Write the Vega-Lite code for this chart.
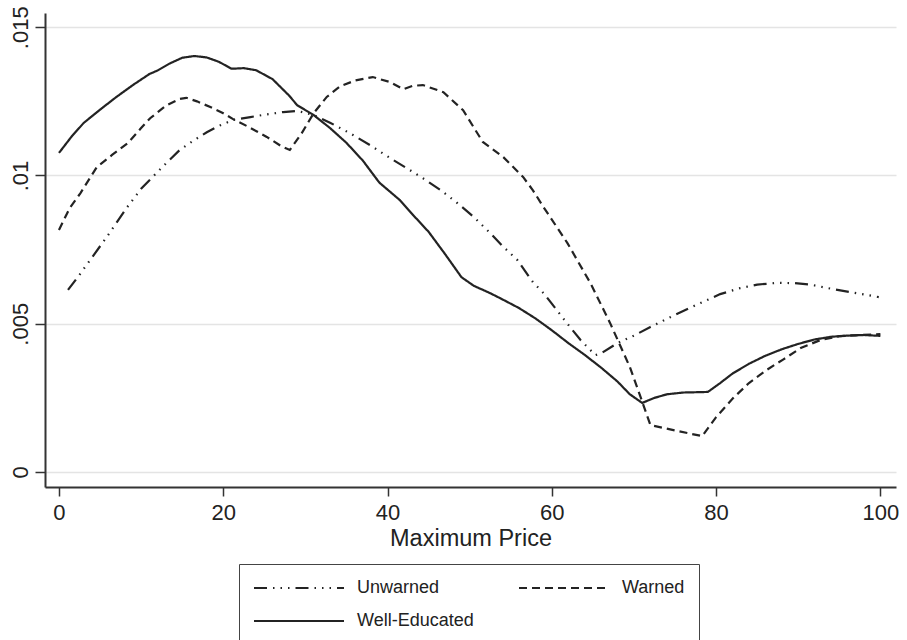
{
  "$schema": "https://vega.github.io/schema/vega-lite/v6.json",
  "autosize": {"type": "none"},
  "padding": {"left": 45, "top": 13, "right": 11, "bottom": 153},
  "width": 851,
  "height": 474,
  "background": "white",
  "config": {"view": {"stroke": null}, "font": "Liberation Sans"},
  "data": {"values": [
    {"group": "Well-Educated", "price": 0, "density": 0.01076},
    {"group": "Well-Educated", "price": 1.5, "density": 0.0113},
    {"group": "Well-Educated", "price": 3, "density": 0.01177},
    {"group": "Well-Educated", "price": 5, "density": 0.01222},
    {"group": "Well-Educated", "price": 7, "density": 0.01265},
    {"group": "Well-Educated", "price": 9, "density": 0.01305},
    {"group": "Well-Educated", "price": 11, "density": 0.01342},
    {"group": "Well-Educated", "price": 12, "density": 0.01354},
    {"group": "Well-Educated", "price": 13.5, "density": 0.01378},
    {"group": "Well-Educated", "price": 15, "density": 0.01397},
    {"group": "Well-Educated", "price": 16.5, "density": 0.01403},
    {"group": "Well-Educated", "price": 18, "density": 0.01398},
    {"group": "Well-Educated", "price": 19.5, "density": 0.01383},
    {"group": "Well-Educated", "price": 21, "density": 0.0136},
    {"group": "Well-Educated", "price": 22.5, "density": 0.01362},
    {"group": "Well-Educated", "price": 24, "density": 0.01355},
    {"group": "Well-Educated", "price": 26, "density": 0.01325},
    {"group": "Well-Educated", "price": 28, "density": 0.0127},
    {"group": "Well-Educated", "price": 29, "density": 0.01237},
    {"group": "Well-Educated", "price": 31, "density": 0.01204},
    {"group": "Well-Educated", "price": 33, "density": 0.0116},
    {"group": "Well-Educated", "price": 35, "density": 0.0111},
    {"group": "Well-Educated", "price": 37, "density": 0.0105},
    {"group": "Well-Educated", "price": 39, "density": 0.00976},
    {"group": "Well-Educated", "price": 41.5, "density": 0.00917},
    {"group": "Well-Educated", "price": 43, "density": 0.0087},
    {"group": "Well-Educated", "price": 45, "density": 0.0081},
    {"group": "Well-Educated", "price": 47, "density": 0.00735},
    {"group": "Well-Educated", "price": 49, "density": 0.00657},
    {"group": "Well-Educated", "price": 50.5, "density": 0.00628},
    {"group": "Well-Educated", "price": 52.5, "density": 0.00603},
    {"group": "Well-Educated", "price": 54, "density": 0.00582},
    {"group": "Well-Educated", "price": 56, "density": 0.00553},
    {"group": "Well-Educated", "price": 58, "density": 0.00518},
    {"group": "Well-Educated", "price": 60, "density": 0.00478},
    {"group": "Well-Educated", "price": 62, "density": 0.00435},
    {"group": "Well-Educated", "price": 64, "density": 0.00395},
    {"group": "Well-Educated", "price": 66, "density": 0.00352},
    {"group": "Well-Educated", "price": 68, "density": 0.00305},
    {"group": "Well-Educated", "price": 69.5, "density": 0.00262},
    {"group": "Well-Educated", "price": 71, "density": 0.00233},
    {"group": "Well-Educated", "price": 72.5, "density": 0.0025},
    {"group": "Well-Educated", "price": 74, "density": 0.00262},
    {"group": "Well-Educated", "price": 76, "density": 0.00268},
    {"group": "Well-Educated", "price": 79, "density": 0.0027},
    {"group": "Well-Educated", "price": 80.5, "density": 0.003},
    {"group": "Well-Educated", "price": 82, "density": 0.00332},
    {"group": "Well-Educated", "price": 84, "density": 0.00365},
    {"group": "Well-Educated", "price": 86, "density": 0.00392},
    {"group": "Well-Educated", "price": 88, "density": 0.00414},
    {"group": "Well-Educated", "price": 90, "density": 0.00432},
    {"group": "Well-Educated", "price": 92, "density": 0.00447},
    {"group": "Well-Educated", "price": 94, "density": 0.00456},
    {"group": "Well-Educated", "price": 96, "density": 0.0046},
    {"group": "Well-Educated", "price": 98, "density": 0.00462},
    {"group": "Well-Educated", "price": 100, "density": 0.00459},

    {"group": "Warned", "price": 0, "density": 0.00816},
    {"group": "Warned", "price": 1.3, "density": 0.0089},
    {"group": "Warned", "price": 2.6, "density": 0.0094},
    {"group": "Warned", "price": 4.6, "density": 0.01028},
    {"group": "Warned", "price": 6.5, "density": 0.0107},
    {"group": "Warned", "price": 8.4, "density": 0.0111},
    {"group": "Warned", "price": 10, "density": 0.0116},
    {"group": "Warned", "price": 11.1, "density": 0.01193},
    {"group": "Warned", "price": 13, "density": 0.01235},
    {"group": "Warned", "price": 14.7, "density": 0.01258},
    {"group": "Warned", "price": 15.5, "density": 0.01262},
    {"group": "Warned", "price": 16.8, "density": 0.0125},
    {"group": "Warned", "price": 18.5, "density": 0.0123},
    {"group": "Warned", "price": 20, "density": 0.0121},
    {"group": "Warned", "price": 21.2, "density": 0.0119},
    {"group": "Warned", "price": 23, "density": 0.01165},
    {"group": "Warned", "price": 25.3, "density": 0.0113},
    {"group": "Warned", "price": 27, "density": 0.011},
    {"group": "Warned", "price": 28.1, "density": 0.01086},
    {"group": "Warned", "price": 29.5, "density": 0.0114},
    {"group": "Warned", "price": 31, "density": 0.0121},
    {"group": "Warned", "price": 32.6, "density": 0.01265},
    {"group": "Warned", "price": 34.2, "density": 0.013},
    {"group": "Warned", "price": 36, "density": 0.0132},
    {"group": "Warned", "price": 38.2, "density": 0.01332},
    {"group": "Warned", "price": 40.3, "density": 0.01315},
    {"group": "Warned", "price": 41.9, "density": 0.01291},
    {"group": "Warned", "price": 43, "density": 0.01302},
    {"group": "Warned", "price": 44.3, "density": 0.01305},
    {"group": "Warned", "price": 46.8, "density": 0.01281},
    {"group": "Warned", "price": 49.2, "density": 0.0122},
    {"group": "Warned", "price": 51.6, "density": 0.01113},
    {"group": "Warned", "price": 54.1, "density": 0.01062},
    {"group": "Warned", "price": 56.5, "density": 0.00995},
    {"group": "Warned", "price": 57.7, "density": 0.0095},
    {"group": "Warned", "price": 59, "density": 0.00893},
    {"group": "Warned", "price": 61.9, "density": 0.00772},
    {"group": "Warned", "price": 64.7, "density": 0.00637},
    {"group": "Warned", "price": 67.1, "density": 0.00502},
    {"group": "Warned", "price": 69.5, "density": 0.00354},
    {"group": "Warned", "price": 70.8, "density": 0.00253},
    {"group": "Warned", "price": 72, "density": 0.00158},
    {"group": "Warned", "price": 75, "density": 0.0014},
    {"group": "Warned", "price": 78.3, "density": 0.00121},
    {"group": "Warned", "price": 80, "density": 0.00185},
    {"group": "Warned", "price": 82.1, "density": 0.0025},
    {"group": "Warned", "price": 84, "density": 0.003},
    {"group": "Warned", "price": 86.2, "density": 0.00345},
    {"group": "Warned", "price": 88.2, "density": 0.0038},
    {"group": "Warned", "price": 90.3, "density": 0.00418},
    {"group": "Warned", "price": 92.7, "density": 0.00445},
    {"group": "Warned", "price": 95, "density": 0.00458},
    {"group": "Warned", "price": 97.5, "density": 0.00462},
    {"group": "Warned", "price": 100, "density": 0.00465},

    {"group": "Unwarned", "price": 1.1, "density": 0.00614},
    {"group": "Unwarned", "price": 2.5, "density": 0.00665},
    {"group": "Unwarned", "price": 3.8, "density": 0.00715},
    {"group": "Unwarned", "price": 5.8, "density": 0.00792},
    {"group": "Unwarned", "price": 8.3, "density": 0.00893},
    {"group": "Unwarned", "price": 10, "density": 0.00955},
    {"group": "Unwarned", "price": 11.4, "density": 0.00995},
    {"group": "Unwarned", "price": 13, "density": 0.0104},
    {"group": "Unwarned", "price": 14.7, "density": 0.01086},
    {"group": "Unwarned", "price": 16.5, "density": 0.0112},
    {"group": "Unwarned", "price": 18, "density": 0.01146},
    {"group": "Unwarned", "price": 19.5, "density": 0.01168},
    {"group": "Unwarned", "price": 21.2, "density": 0.01187},
    {"group": "Unwarned", "price": 23.3, "density": 0.01197},
    {"group": "Unwarned", "price": 25, "density": 0.01205},
    {"group": "Unwarned", "price": 27.3, "density": 0.01214},
    {"group": "Unwarned", "price": 29, "density": 0.01218},
    {"group": "Unwarned", "price": 31, "density": 0.01204},
    {"group": "Unwarned", "price": 33, "density": 0.01178},
    {"group": "Unwarned", "price": 35.4, "density": 0.01143},
    {"group": "Unwarned", "price": 38, "density": 0.011},
    {"group": "Unwarned", "price": 40.7, "density": 0.01052},
    {"group": "Unwarned", "price": 42.5, "density": 0.01022},
    {"group": "Unwarned", "price": 44.3, "density": 0.00991},
    {"group": "Unwarned", "price": 46.5, "density": 0.0095},
    {"group": "Unwarned", "price": 48.5, "density": 0.00907},
    {"group": "Unwarned", "price": 50.5, "density": 0.0086},
    {"group": "Unwarned", "price": 52.5, "density": 0.00806},
    {"group": "Unwarned", "price": 54, "density": 0.00762},
    {"group": "Unwarned", "price": 55.8, "density": 0.00715},
    {"group": "Unwarned", "price": 57.7, "density": 0.0064},
    {"group": "Unwarned", "price": 59, "density": 0.00603},
    {"group": "Unwarned", "price": 61.9, "density": 0.005},
    {"group": "Unwarned", "price": 63.5, "density": 0.00445},
    {"group": "Unwarned", "price": 65.3, "density": 0.00394},
    {"group": "Unwarned", "price": 66, "density": 0.004},
    {"group": "Unwarned", "price": 68, "density": 0.00435},
    {"group": "Unwarned", "price": 70, "density": 0.0046},
    {"group": "Unwarned", "price": 72, "density": 0.00489},
    {"group": "Unwarned", "price": 75, "density": 0.0053},
    {"group": "Unwarned", "price": 78.1, "density": 0.0057},
    {"group": "Unwarned", "price": 80.5, "density": 0.006},
    {"group": "Unwarned", "price": 82.9, "density": 0.0062},
    {"group": "Unwarned", "price": 85, "density": 0.00632},
    {"group": "Unwarned", "price": 87.5, "density": 0.00638},
    {"group": "Unwarned", "price": 89.5, "density": 0.00637},
    {"group": "Unwarned", "price": 91.5, "density": 0.00632},
    {"group": "Unwarned", "price": 94, "density": 0.00618},
    {"group": "Unwarned", "price": 96.7, "density": 0.00605},
    {"group": "Unwarned", "price": 99.8, "density": 0.0059}
  ]},
  "mark": {"type": "line", "strokeWidth": 2.2, "color": "#232323"},
  "encoding": {
    "x": {
      "field": "price", "type": "quantitative",
      "scale": {"domain": [-1.7, 101.9], "nice": false, "zero": false},
      "axis": {
        "values": [0, 20, 40, 60, 80, 100], "grid": false,
        "domainColor": "#333", "domainWidth": 2,
        "tickColor": "#333", "tickWidth": 1.5, "tickSize": 9,
        "labelFontSize": 22, "labelColor": "#222", "labelPadding": 6, "labelFlush": false,
        "title": "Maximum Price", "titleFontSize": 23.5, "titleFontWeight": "normal",
        "titleColor": "#222", "titleY": 58, "titleBaseline": "alphabetic"
      }
    },
    "y": {
      "field": "density", "type": "quantitative",
      "scale": {"domain": [-0.000506, 0.01548], "nice": false, "zero": false},
      "axis": {
        "values": [0, 0.005, 0.01, 0.015],
        "labelExpr": "replace(format(datum.value, '.3~f'), '0.', '.')",
        "grid": true, "gridColor": "#e4e4e4", "gridWidth": 1.5,
        "domainColor": "#333", "domainWidth": 2,
        "tickColor": "#333", "tickWidth": 1.5, "tickSize": 10,
        "labelFontSize": 22, "labelColor": "#222", "labelAngle": 270,
        "labelAlign": "center", "labelBaseline": "alphabetic", "labelPadding": 8,
        "title": null
      }
    },
    "strokeDash": {
      "field": "group", "type": "nominal",
      "scale": {
        "domain": ["Unwarned", "Warned", "Well-Educated"],
        "range": [[13, 6, 1.5, 6, 1.5, 6, 1.5, 6], [8, 5], [1, 0]]
      },
      "legend": {
        "orient": "none", "legendX": 194, "legendY": 551,
        "title": null, "columns": 2, "direction": "horizontal",
        "symbolType": "stroke", "symbolSize": 8100, "symbolStrokeWidth": 2,
        "symbolStrokeColor": "#232323",
        "labelFontSize": 18, "labelColor": "#222", "labelOffset": 12,
        "columnPadding": 44, "rowPadding": 13, "padding": 14, "clipHeight": 20,
        "strokeColor": "#444", "fillColor": "white"
      }
    }
  }
}
